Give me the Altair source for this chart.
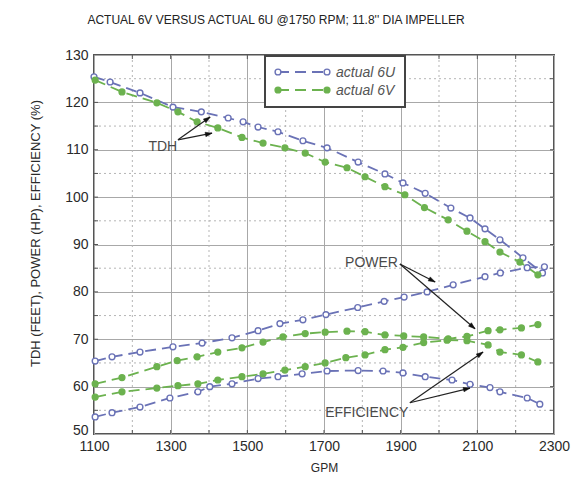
import math
import altair as alt
import pandas as pd

# ---------------- text ----------------
TITLE = "ACTUAL 6V VERSUS ACTUAL 6U @1750 RPM; 11.8'' DIA IMPELLER"
Y_TITLE = "TDH (FEET), POWER (HP), EFFICIENCY (%)"
X_TITLE = "GPM"
SERIES = ["actual 6U", "actual 6V"]
COLORS = ["#6a72b6", "#6cb24f"]

# ---------------- axes ----------------
X_DOMAIN = [1100, 2300]
Y_DOMAIN = [50, 130]
x_ticks = [1100, 1300, 1500, 1700, 1900, 2100, 2300]
y_ticks = [50, 60, 70, 80, 90, 100, 110, 120, 130]
x_minor = [1200, 1400, 1600, 1800, 2000, 2200]
y_minor = [55, 65, 75, 85, 95, 105, 115, 125]
x_tickmarks = [1200, 1300, 1400, 1500, 1600, 1700, 1800, 1900, 2000, 2100, 2200]
y_tickmarks = [55, 60, 65, 70, 75, 80, 85, 90, 95, 100, 105, 110, 115, 120, 125]

# ---------------- data ----------------
u_tdh_gpm = [1100, 1142, 1220, 1306, 1380, 1450, 1489, 1528, 1580, 1645, 1708, 1789, 1859,
             1906, 1964, 2031, 2081, 2120, 2159, 2219, 2270]
u_tdh = [125.4, 124.3, 122.0, 119.0, 118.0, 116.7, 115.9, 114.8, 113.8, 111.9, 110.4, 107.4, 104.9,
         103.0, 100.8, 97.7, 95.6, 93.3, 91.0, 87.2, 84.0]

v_tdh_gpm = [1103, 1173, 1264, 1319, 1369, 1423, 1486, 1541, 1598, 1651, 1703, 1760, 1807,
             1859, 1911, 1962, 2024, 2073, 2120, 2159, 2211, 2258]
v_tdh = [124.7, 122.2, 119.9, 118.0, 115.9, 114.6, 112.6, 111.4, 110.4, 109.3, 107.4, 106.2, 104.3,
         102.2, 100.5, 97.8, 95.2, 92.8, 90.6, 88.4, 86.3, 83.6]

u_pow_gpm = [1103, 1147, 1220, 1306, 1382, 1460, 1528, 1585, 1645, 1705, 1788, 1857, 1909,
             1969, 2037, 2120, 2160, 2230, 2275]
u_pow = [65.4, 66.3, 67.3, 68.4, 69.2, 70.3, 71.8, 73.3, 74.1, 75.2, 76.7, 78.0, 78.9,
         80.0, 81.5, 83.2, 84.0, 85.1, 85.3]

v_pow_gpm = [1103, 1173, 1264, 1317, 1369, 1423, 1486, 1541, 1593, 1651, 1703, 1760, 1807,
             1859, 1908, 1960, 2024, 2073, 2128, 2159, 2215, 2258]
v_pow = [60.6, 61.9, 64.2, 65.5, 66.3, 67.3, 68.2, 69.4, 70.5, 71.2, 71.5, 71.7, 71.6,
         70.9, 70.7, 70.5, 70.1, 70.6, 71.8, 72.0, 72.4, 73.1]

u_eff_gpm = [1103, 1147, 1220, 1298, 1371, 1402, 1460, 1528, 1580, 1643, 1708, 1789, 1854,
             1906, 1964, 2034, 2081, 2133, 2159, 2230, 2263]
u_eff = [53.6, 54.5, 55.7, 57.6, 58.9, 60.0, 60.6, 61.7, 62.1, 62.7, 63.3, 63.4, 63.3,
         62.9, 62.1, 61.4, 60.5, 59.8, 58.9, 57.6, 56.3]

v_eff_gpm = [1103, 1173, 1264, 1319, 1371, 1423, 1486, 1541, 1598, 1651, 1703, 1757, 1807,
             1859, 1906, 1960, 2021, 2073, 2128, 2159, 2215, 2258]
v_eff = [57.8, 58.9, 59.7, 60.2, 60.6, 61.4, 62.1, 62.7, 63.5, 64.2, 65.0, 66.1, 66.7,
         67.8, 68.3, 69.3, 69.8, 69.7, 68.8, 67.3, 66.7, 65.2]

# annotations: label, text anchor (gpm, value), alignment, arrow start, arrow tips
ann_labels = ["TDH", "POWER", "EFFICIENCY"]
ann_text_gpm = [1317, 1755, 1703]
ann_text_val = [110.6, 86.1, 54.5]
ann_align = ["right", "left", "left"]
arrow_from_gpm = [1319, 1319, 1898, 1898, 1924, 1924]
arrow_from_val = [112.1, 112.1, 85.9, 85.9, 56.6, 56.6]
arrow_to_gpm = [1403, 1408, 1990, 2094, 2115, 2081]
arrow_to_val = [116.9, 113.5, 82.1, 72.2, 67.3, 59.7]

# ---------------- layout ----------------
W, H = 460, 379
PAD = {"left": 86, "top": 47, "right": 20, "bottom": 41}
SANS = "Liberation Sans, Arial, sans-serif"

rows = []
for model, curve, gs, vs in [
    (SERIES[0], "6U TDH", u_tdh_gpm, u_tdh), (SERIES[1], "6V TDH", v_tdh_gpm, v_tdh),
    (SERIES[0], "6U POWER", u_pow_gpm, u_pow), (SERIES[1], "6V POWER", v_pow_gpm, v_pow),
    (SERIES[0], "6U EFF", u_eff_gpm, u_eff), (SERIES[1], "6V EFF", v_eff_gpm, v_eff),
]:
    for g, v in zip(gs, vs):
        rows.append({"model": model, "curve": curve, "gpm": g, "value": v})
df = pd.DataFrame(rows)

x_scale = alt.Scale(domain=X_DOMAIN, nice=False, zero=False)
y_scale = alt.Scale(domain=Y_DOMAIN, nice=False, zero=False)

x_enc = alt.X("gpm:Q", scale=x_scale, axis=alt.Axis(
    values=x_ticks, title=X_TITLE, format="d", grid=True, gridColor="#a8a8a8", gridWidth=1,
    ticks=False, tickSize=0, domain=False, labelPadding=5, labelFont=SANS, labelFontSize=14,
    labelFlush=False, labelOverlap=False,
    labelColor="#2a2a2a", titleFont=SANS, titleFontSize=12, titleFontWeight="normal",
    titleColor="#2a2a2a", titleX=W / 2, titleY=28, titleBaseline="top", titleAlign="center"))
y_enc = alt.Y("value:Q", scale=y_scale, axis=alt.Axis(
    values=y_ticks, title=Y_TITLE, grid=True, gridColor="#a8a8a8", gridWidth=1,
    ticks=False, tickSize=0, domain=False, labelPadding=6, labelFont=SANS, labelFontSize=14,
    labelFlush=False, labelOverlap=False,
    labelOffset={"condition": {"test": "datum.value == 50", "value": -4}, "value": 0},
    labelColor="#2a2a2a", titleFont=SANS, titleFontSize=13, titleFontWeight="normal",
    titleColor="#2a2a2a", titleX=-59, titleY=178, titleAngle=270, titleAlign="center",
    titleBaseline="middle"))

color_scale = alt.Scale(domain=SERIES, range=COLORS)

# minor dotted grid
gx = alt.Chart(pd.DataFrame({"gpm": x_minor})).mark_rule(
    color="#b5b5b5", strokeDash=[2, 3], strokeWidth=1).encode(
    x=x_enc, y=alt.value(0), y2=alt.value(H))
gy = alt.Chart(pd.DataFrame({"value": y_minor})).mark_rule(
    color="#b5b5b5", strokeDash=[2, 3], strokeWidth=1).encode(
    y=y_enc, x=alt.value(0), x2=alt.value(W))

# inward tick marks
tick_style = dict(color="#555555", strokeWidth=1)
tx_top = alt.Chart(pd.DataFrame({"gpm": x_tickmarks})).mark_rule(**tick_style).encode(
    x=x_enc, y=alt.value(0), y2=alt.value(4))
tx_bot = alt.Chart(pd.DataFrame({"gpm": x_tickmarks})).mark_rule(**tick_style).encode(
    x=x_enc, y=alt.value(H), y2=alt.value(H - 4))
ty_left = alt.Chart(pd.DataFrame({"value": y_tickmarks})).mark_rule(**tick_style).encode(
    y=y_enc, x=alt.value(0), x2=alt.value(4))
ty_right = alt.Chart(pd.DataFrame({"value": y_tickmarks})).mark_rule(**tick_style).encode(
    y=y_enc, x=alt.value(W - 4), x2=alt.value(W))

lines = alt.Chart(df).mark_line(strokeDash=[11, 6], strokeWidth=1.8).encode(
    x=x_enc, y=y_enc,
    color=alt.Color("model:N", scale=color_scale, legend=None),
    detail="curve:N", order="gpm:Q")

points = alt.Chart(df).mark_point(shape="circle", size=34, strokeWidth=1.4, filled=True,
                                  opacity=1, fillOpacity=1).encode(
    x=x_enc, y=y_enc,
    fill=alt.Fill("model:N", scale=alt.Scale(domain=SERIES, range=["#ffffff", COLORS[1]]), legend=None),
    stroke=alt.Stroke("model:N", scale=color_scale, legend=None))

# annotations
ann_df = pd.DataFrame({"label": ann_labels, "gpm": ann_text_gpm, "value": ann_text_val,
                       "align": ann_align})
texts = []
for al in ["left", "right"]:
    texts.append(alt.Chart(ann_df).transform_filter(alt.datum.align == al).mark_text(
        align=al, baseline="middle", font=SANS, fontSize=14, color="#4a4a4a").encode(
        x=x_enc, y=y_enc, text="label:N"))

px_x = W / (X_DOMAIN[1] - X_DOMAIN[0])
px_y = H / (Y_DOMAIN[1] - Y_DOMAIN[0])
angles = []
for g0, v0, g1, v1 in zip(arrow_from_gpm, arrow_from_val, arrow_to_gpm, arrow_to_val):
    dxp = (g1 - g0) * px_x
    dyp = -(v1 - v0) * px_y
    angles.append(math.degrees(math.atan2(dxp, -dyp)) % 360)
arr_df = pd.DataFrame({"gpm": arrow_from_gpm, "value": arrow_from_val,
                       "gpm2": arrow_to_gpm, "value2": arrow_to_val, "ang": angles})
arrow_lines = alt.Chart(arr_df).mark_rule(color="#222222", strokeWidth=1.2).encode(
    x=x_enc, y=y_enc, x2="gpm2:Q", y2="value2:Q")
head_df = pd.DataFrame({"gpm": arrow_to_gpm, "value": arrow_to_val, "ang": angles})
arrow_heads = alt.Chart(head_df).mark_point(
    shape="M0,0L0.5,1.5L-0.5,1.5Z", filled=True, fill="#111111", stroke="#111111",
    strokeWidth=0.5, size=80, opacity=1).encode(
    x=x_enc, y=y_enc, angle=alt.Angle("ang:Q", scale=None))

# legend box
one = pd.DataFrame({"a": [0]})
legend_layers = [alt.Chart(one).mark_rect(fill="white", stroke="#444444", strokeWidth=2).encode(
    x=alt.value(171), x2=alt.value(311), y=alt.value(1), y2=alt.value(52))]
for i, name in enumerate(SERIES):
    yv = 17 + 18 * i
    ldf = pd.DataFrame({"model": [name]})
    legend_layers.append(alt.Chart(ldf).mark_rule(
        strokeDash=[11, 6], strokeWidth=1.8, color=COLORS[i]).encode(
        x=alt.value(184), x2=alt.value(233), y=alt.value(yv)))
    for xv in [184, 233]:
        legend_layers.append(alt.Chart(ldf).mark_point(
            shape="circle", size=34, strokeWidth=1.4, filled=True, opacity=1,
            fill="#ffffff" if i == 0 else COLORS[1], stroke=COLORS[i]).encode(
            x=alt.value(xv), y=alt.value(yv)))
    legend_layers.append(alt.Chart(ldf).mark_text(
        align="left", baseline="middle", font=SANS, fontSize=14, fontStyle="italic",
        color="#555555").encode(x=alt.value(242), y=alt.value(yv + 1), text="model:N"))

chart = alt.layer(
    gx, gy, tx_top, tx_bot, ty_left, ty_right, lines, points,
    arrow_lines, arrow_heads, *texts, *legend_layers
).properties(
    width=W, height=H, padding=PAD, autosize=alt.AutoSizeParams(type="none"),
    background="white",
    title=alt.TitleParams(TITLE, font=SANS, fontSize=12, fontWeight="normal", color="#222222",
                          anchor="middle", frame="group", dx=-48, offset=21),
).configure_view(stroke="#555555", strokeWidth=2)

chart.save("out.html", embed_options={"renderer": "svg", "actions": False})
